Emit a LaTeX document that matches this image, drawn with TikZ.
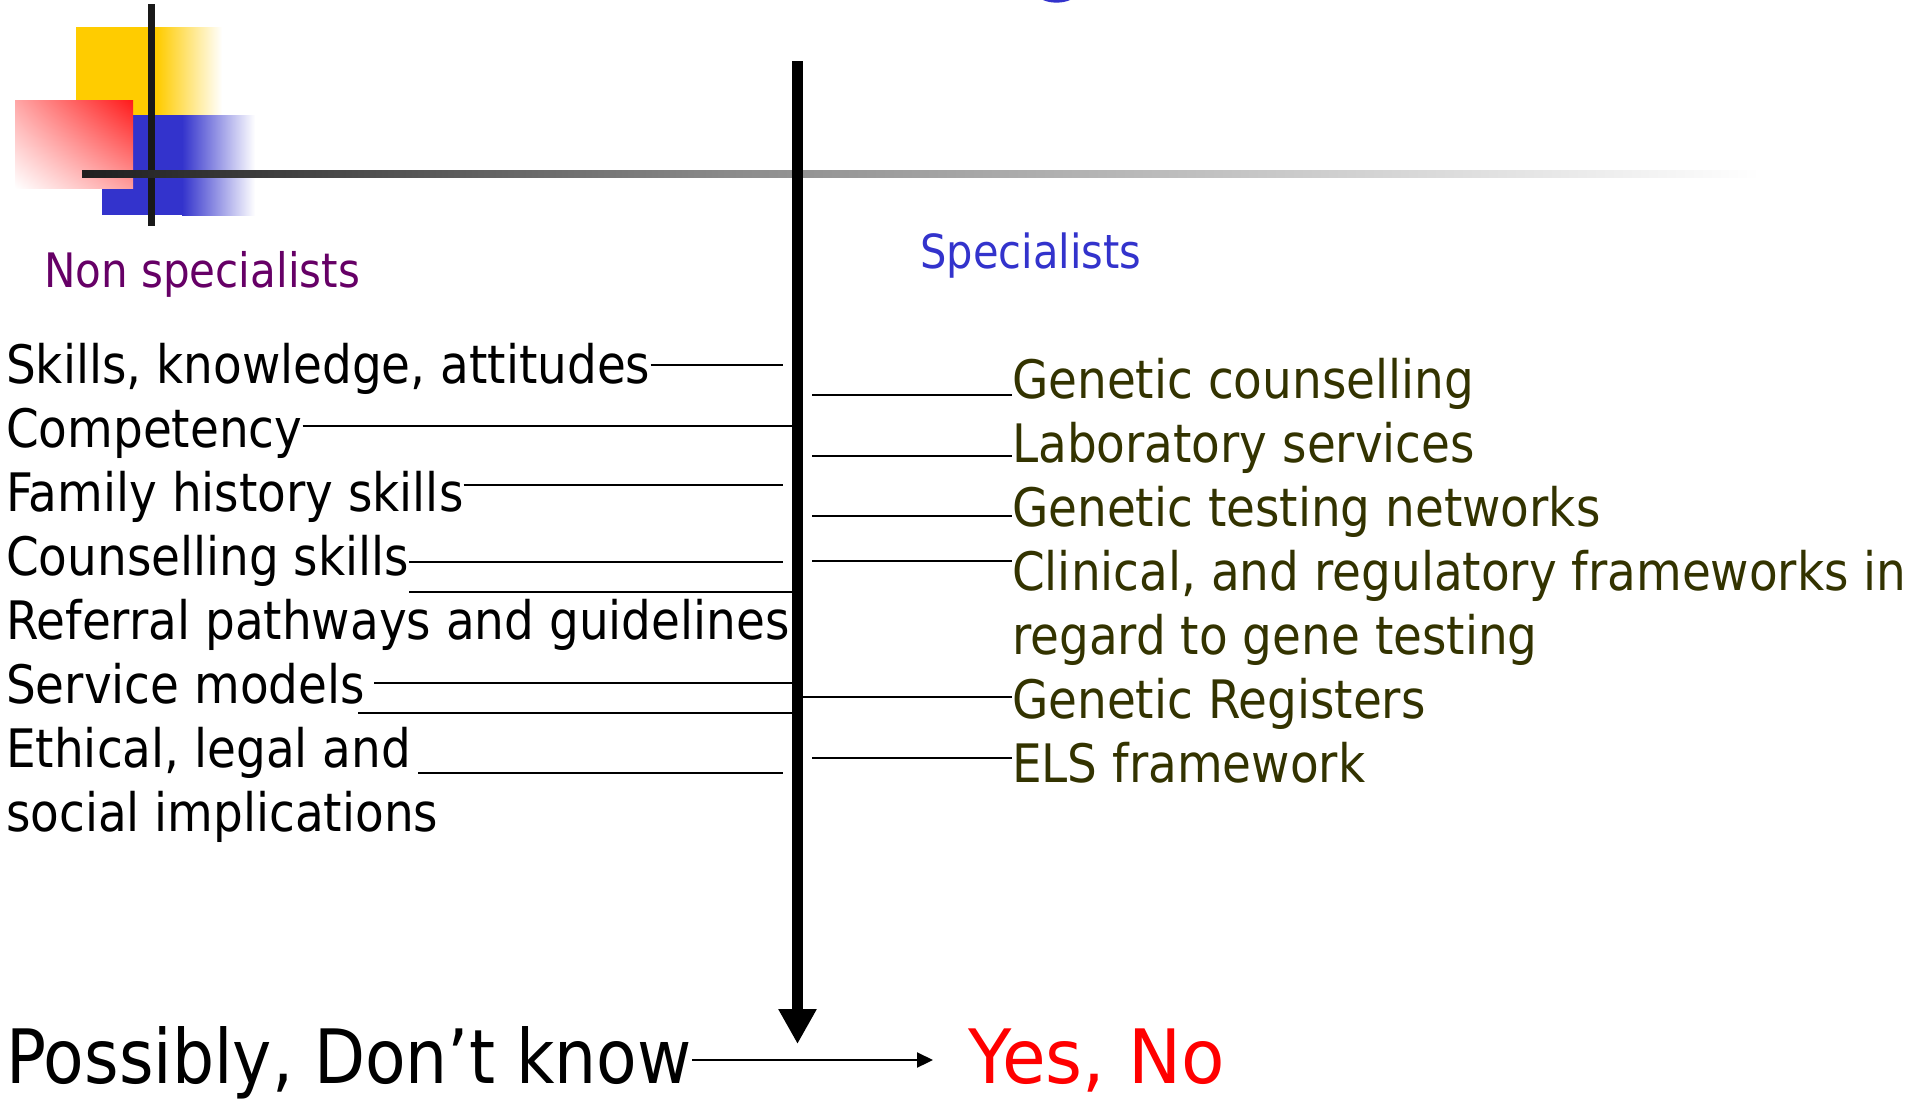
\documentclass[tikz,border=0pt]{standalone}
\usepackage{fontspec}
\setmainfont{DejaVu Sans}[FakeStretch=0.885]
\usetikzlibrary{arrows.meta,shadings}
\definecolor{nonpurple}{HTML}{660066}
\definecolor{specblue}{HTML}{3333CC}
\definecolor{olivetxt}{HTML}{333300}
\definecolor{logoyellow}{HTML}{FFCC00}
\definecolor{logoblue}{HTML}{3333CC}
\definecolor{yesred}{HTML}{FF0000}
\begin{document}
\begin{tikzpicture}[x=1pt,y=-1pt,
  lefttext/.style={anchor=base west,inner sep=0pt,font=\fontsize{53}{64}\selectfont,text=black},
  righttext/.style={lefttext,text=olivetxt},
  bigtext/.style={anchor=base west,inner sep=0pt,font=\fontsize{75}{88}\selectfont},
  link/.style={line width=2.2pt,black},
]
\useasboundingbox (0,0) rectangle (1928,1098);
% fragment of title descender
\fill[specblue] (1043,0) .. controls (1050,3.5) and (1063,3.5) .. (1070,0) -- cycle;
% logo
\fill[logoyellow] (76,27) rectangle (157,115);
\shade[left color=logoyellow,right color=white] (157,27) rectangle (222,115);
\fill[logoblue] (102,115) rectangle (182,215);
\shade[left color=logoblue,right color=white] (182,115) rectangle (255,215);
\shade[upper left=yesred!35, upper right=yesred!90, lower left=white, lower right=yesred!38] (15,100) rectangle (133,188);
\fill[black!90] (148,4) rectangle (155,226);
\shade[left color=black!88,right color=black!45] (82,170) rectangle (740,177);
\shade[left color=black!45,right color=white] (740,170) rectangle (1760,177);
% headings
\node[anchor=base west,inner sep=0pt,font=\fontsize{47.5}{58}\selectfont,text=nonpurple] (nonspec) at (44,287) {Non specialists};
\node[anchor=base west,inner sep=0pt,font=\fontsize{47}{56}\selectfont,text=specblue] (spec) at (920,268) {Specialists};
% left texts
\node[lefttext] (l1) at (6,383) {Skills, knowledge, attitudes};
\node[lefttext] (l2) at (6,447) {Competency};
\node[lefttext] (l3) at (6,511) {Family history skills};
\node[lefttext] (l4) at (6,575) {Counselling skills};
\node[lefttext] (l5) at (6,639) {Referral pathways and guidelines};
\node[lefttext] (l6) at (6,703) {Service models};
\node[lefttext] (l7) at (6,767) {Ethical, legal and};
\node[lefttext] (l8) at (6,831) {social implications};
% right texts
\node[righttext] (r1) at (1012,398) {Genetic counselling};
\node[righttext] (r2) at (1012,462) {Laboratory services};
\node[righttext] (r3) at (1012,526) {Genetic testing networks};
\node[righttext] (r4) at (1012,590) {Clinical, and regulatory frameworks in};
\node[righttext] (r5) at (1012,654) {regard to gene testing};
\node[righttext] (r6) at (1012,718) {Genetic Registers};
\node[righttext] (r7) at (1012,782) {ELS framework};
% spine
\coordinate (spinetop) at (797.5,61);
\coordinate (spinetip) at (797.5,1044);
\draw[line width=11pt,-{Triangle[width=36pt,length=35pt]}] (spinetop) -- (spinetip);
% left connectors
\coordinate (c1) at (783,365);
\coordinate (c2) at (792,426);
\coordinate (c3) at (783,485);
\coordinate (c4) at (783,562);
\coordinate (c5) at (792,592);
\coordinate (c6s) at (374,683);
\coordinate (c6) at (792,683);
\coordinate (c7s) at (358,713);
\coordinate (c7) at (792,713);
\coordinate (c8s) at (418,773);
\coordinate (c8) at (783,773);
\draw[link] (l1.east |- c1) -- (c1);
\draw[link] (l2.east |- c2) -- (c2);
\draw[link] (l3.east |- c3) -- (c3);
\draw[link] (l4.east |- c4) -- (c4);
\draw[link] (l4.east |- c5) -- (c5);
\draw[link] (c6s) -- (c6);
\draw[link] (c7s) -- (c7);
\draw[link] (c8s) -- (c8);
% right connectors
\coordinate (d1) at (812,395);
\coordinate (d2) at (812,456);
\coordinate (d3) at (812,516);
\coordinate (d4) at (812,561);
\coordinate (d6) at (803,697);
\coordinate (d7) at (812,758);
\draw[link] (d1) -- (r1.west |- d1);
\draw[link] (d2) -- (r2.west |- d2);
\draw[link] (d3) -- (r3.west |- d3);
\draw[link] (d4) -- (r4.west |- d4);
\draw[link] (d6) -- (r6.west |- d6);
\draw[link] (d7) -- (r7.west |- d7);
% bottom
\node[bigtext] (poss) at (6,1083) {Possibly, Don’t know};
\node[bigtext,text=yesred] (yesno) at (968,1083) {\scalebox{1.07}[1]{Yes, No}};
\coordinate (bstart) at (692,1060);
\coordinate (bend) at (933,1060);
\draw[line width=2.2pt,-{Triangle[width=15pt,length=16pt]}] (bstart) -- (bend);
\end{tikzpicture}
\end{document}
